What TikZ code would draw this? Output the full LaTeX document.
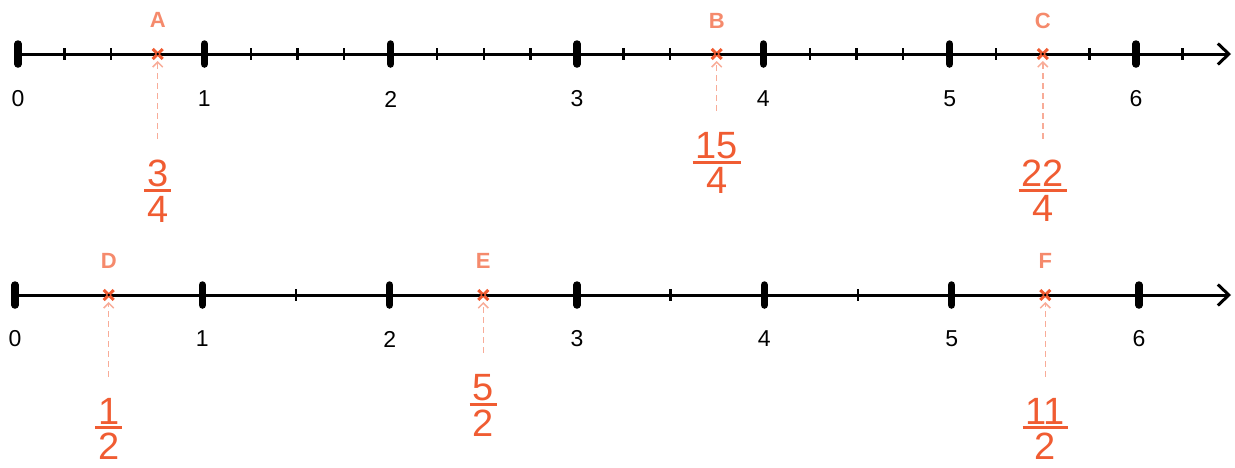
\documentclass[tikz,border=0pt]{standalone}
\usepackage{fontspec}
\setmainfont{Liberation Sans}
\usetikzlibrary{arrows.meta,calc}
\definecolor{lab}{RGB}{245,138,108}
\definecolor{frc}{RGB}{240,92,50}
\definecolor{dsh}{RGB}{248,172,152}
\newcommand\vfrac[2]{\vbox{\offinterlineskip\halign{\hfil##\hfil\cr\kern3pt#1\kern3pt\cr\noalign{\kern2pt\hrule height 3pt\kern4pt}#2\cr}}}
\begin{document}
\begin{tikzpicture}[x=1pt,y=-1pt,
  axis/.style={line width=3pt,-{Straight Barb[length=11pt,width=21pt]}},
  bigtick/.style={line width=7.5pt,line cap=round},
  smalltick/.style={line width=2.5pt},
  numlab/.style={font=\fontsize{23}{27}\selectfont,inner sep=0pt},
  letlab/.style={font=\fontsize{22}{26}\selectfont\bfseries,text=lab,inner sep=0pt},
  fraclab/.style={font=\fontsize{38}{45}\selectfont,text=frc,inner sep=0pt},
  crossmark/.style={draw=frc,line width=3pt},
  dasharr/.style={draw=dsh,line width=1.5pt,dash pattern=on 6pt off 4pt,-{Straight Barb[length=5pt,width=10pt,line width=1.5pt]}}]
\useasboundingbox (0,0) rectangle (1235,467);
% ---------- top axis ----------
\coordinate (t0) at (18,54);
\coordinate (tend) at (1231,54);
\draw[axis] (t0) -- (tend);
\foreach \q in {1,2,5,6,7,9,10,11,13,14,17,18,19,21,23,25}{
  \draw[smalltick] ({18+\q*186.33/4},48) -- ({18+\q*186.33/4},60);
}
\foreach \i in {0,...,6}{
  \draw[bigtick] ({18+\i*186.33},44) -- ({18+\i*186.33},64);
  \node[numlab] (tn\i) at ({18+\i*186.33},99) {\i};
}
% ---------- bottom axis ----------
\coordinate (b0) at (15,295);
\coordinate (bend) at (1231,295);
\draw[axis] (b0) -- (bend);
\foreach \h in {3,7,9}{
  \draw[smalltick] ({15+\h*187.33/2},289) -- ({15+\h*187.33/2},301);
}
\foreach \i in {0,...,6}{
  \draw[bigtick] ({15+\i*187.33},285) -- ({15+\i*187.33},305);
  \node[numlab] (bn\i) at ({15+\i*187.33},339) {\i};
}
% ---------- marks ----------
\coordinate (mA) at (157.7,54);
\coordinate (mB) at (716.7,54);
\coordinate (mC) at (1042.8,54);
\coordinate (mD) at (108.7,295);
\coordinate (mE) at (483.3,295);
\coordinate (mF) at (1045.3,295);
\foreach \m in {mA,mB,mC,mD,mE,mF}{
  \draw[crossmark] ($(\m)+(-5,-5)$) -- ($(\m)+(5,5)$);
  \draw[crossmark] ($(\m)+(-5,5)$) -- ($(\m)+(5,-5)$);
  \fill[black] (\m) circle (1.4);
}
% letters
\node[letlab] (lA) at (157.7,20) {A};
\node[letlab] (lB) at (716.7,21) {B};
\node[letlab] (lC) at (1042.8,21) {C};
\node[letlab] (lD) at (108.7,261) {D};
\node[letlab] (lE) at (483.3,261) {E};
\node[letlab] (lF) at (1045.3,261) {F};
% fractions
\node[fraclab] (fA) at (157.7,191) {\vfrac{3}{4}};
\node[fraclab] (fB) at (716.7,163) {\vfrac{15}{4}};
\node[fraclab] (fC) at (1042.8,191) {\vfrac{22}{4}};
\node[fraclab] (fD) at (108.7,429) {\vfrac{1}{2}};
\node[fraclab] (fE) at (483.3,405) {\vfrac{5}{2}};
\node[fraclab] (fF) at (1045.3,429) {\vfrac{11}{2}};
% dashed arrows
\foreach \f/\m in {fA/mA,fB/mB,fC/mC,fD/mD,fE/mE,fF/mF}{
  \draw[dasharr] ($(\f.north)+(0,-21)$) -- ($(\m)+(0,7)$);
}
\end{tikzpicture}
\end{document}
